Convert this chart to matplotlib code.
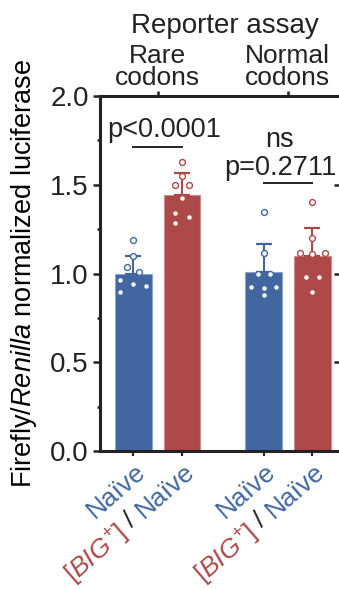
import matplotlib
matplotlib.use("Agg")
import matplotlib.pyplot as plt
from matplotlib.ticker import MultipleLocator
from matplotlib.transforms import blended_transform_factory, offset_copy
import numpy as np

plt.rcParams['font.family'] = ['Liberation Sans', 'DejaVu Sans']
plt.rcParams['mathtext.fontset'] = 'custom'
plt.rcParams['mathtext.rm'] = 'Liberation Sans'
plt.rcParams['mathtext.it'] = 'Liberation Sans:italic'
plt.rcParams['text.color'] = '#222222'

# data
groups = ["Rare\ncodons", "Normal\ncodons"]
conditions = ["Naïve", "[BIG+] / Naïve"]
means = [1.00, 1.44, 1.01, 1.10]
sd = [0.10, 0.125, 0.158, 0.155]
pts_naive_rare = [1.189, 1.10, 1.035, 1.01, 0.963, 0.94, 0.93, 0.897]
pts_big_rare = [1.63, 1.549, 1.499, 1.499, 1.427, 1.339, 1.32, 1.283]
pts_naive_norm = [1.348, 1.113, 0.997, 0.997, 0.922, 0.917, 0.922, 0.879]
pts_big_norm = [1.401, 1.198, 1.114, 1.108, 1.114, 0.982, 0.982, 0.897]
pvals = ["p<0.0001", "ns\np=0.2711"]

# layout
xpos = [0, 1, 2.68, 3.68]
jitter = [
    [0, 0, -0.14, 0.12, -0.27, 0, 0.25, -0.27],
    [0, 0, -0.14, 0.15, 0, -0.14, 0.15, -0.14],
    [0, 0, -0.12, 0.14, -0.26, 0, 0.26, 0],
    [0, 0, -0.26, 0, 0.27, -0.12, 0.15, 0],
]
blue = '#4267a0'
red = '#ad4948'
colors = [blue, red, blue, red]
edges = ['#8aa6cf', '#d08b8a', '#8aa6cf', '#d08b8a']
all_pts = [pts_naive_rare, pts_big_rare, pts_naive_norm, pts_big_norm]

fig = plt.figure(figsize=(3.39, 5.90), dpi=100)
W, H = 339, 590
ax = fig.add_axes([100 / W, 139 / H, 250 / W, 355 / H])

ax.bar(xpos, means, width=0.76, color=colors, edgecolor=edges, linewidth=0.8, zorder=2)
for x, m, s, c in zip(xpos, means, sd, colors):
    ax.errorbar(x, m, yerr=[[0], [s]], color=c, lw=1.5, capsize=6, capthick=1.6, zorder=3)
for x, p, j, c in zip(xpos, all_pts, jitter, colors):
    ax.scatter(np.array(j) + x, p, s=18, facecolor='white', edgecolor=c, linewidth=1.0, zorder=4)

ax.set_ylim(0, 2.0)
ax.set_xlim(-0.69, 4.46)
ax.yaxis.set_minor_locator(MultipleLocator(0.25))
ax.set_yticks([0, 0.5, 1.0, 1.5, 2.0], ['0.0', '0.5', '1.0', '1.5', '2.0'])
ax.tick_params(axis='y', which='major', length=5, width=1.8, labelsize=20, pad=3, colors='#222222')
ax.tick_params(axis='y', which='minor', length=2.5, width=1.8, colors='#222222')
ax.set_xticks(xpos, [''] * 4)
ax.tick_params(axis='x', length=3.6, width=1.5, colors='#222222')
for sp in ['left', 'bottom', 'top']:
    ax.spines[sp].set_linewidth(2.2)
    ax.spines[sp].set_color('#222222')
ax.spines['right'].set_visible(False)
ax.set_facecolor('none')

ax.set_ylabel('Firefly/$\\mathit{Renilla}$ normalized luciferase', fontsize=19.5)
ax.yaxis.set_label_coords(-0.245, 0.5)

# top axis with group labels
top = ax.secondary_xaxis('top')
top.set_xticks([0.5, 3.18], groups)
top.tick_params(length=3.6, width=1.8, labelsize=19, pad=1, colors='#222222')
for lab in top.get_xticklabels():
    lab.set_linespacing(0.85)
top.spines['top'].set_visible(False)
ax.text(0.5, 1 + (96 - 33) / 355, 'Reporter assay', transform=ax.transAxes,
        ha='center', va='baseline', fontsize=20)

# significance
ax.plot([0, 1], [1.714, 1.714], color='#222222', lw=1.4)
ax.text(0.63, 1.769, pvals[0], ha='center', va='baseline', fontsize=19.5)
ax.plot([2.68, 3.68], [1.512, 1.512], color='#222222', lw=1.4)
ns_text, p_text = pvals[1].split('\n')
ax.text(3.0, 1.713, ns_text, ha='center', va='baseline', fontsize=19.5)
ax.text(3.02, 1.555, p_text, ha='center', va='baseline', fontsize=19.5)

# next panel's axis ticks at the right edge
ax2 = fig.add_axes([341 / W, 139 / H, 0.2, 355 / H])
ax2.set_ylim(0, 2.0)
ax2.set_yticks([0.5, 1.0, 1.5], ['', '', ''])
ax2.set_xticks([])
ax2.tick_params(axis='y', length=5, width=1.8, colors='#222222')
for sp in ax2.spines.values():
    sp.set_visible(False)
ax2.set_facecolor('none')

# coloured rotated x labels
renderer = fig.canvas.get_renderer()
xfs = 19
rot = 41
trans = blended_transform_factory(ax.transData, ax.transAxes)
ang = np.deg2rad(rot)


def text_width(s):
    t = fig.text(0, 0, s, fontsize=xfs)
    w = t.get_window_extent(renderer).width
    t.remove()
    return w


def put(x, s, color, dist):
    tr = offset_copy(trans, fig=fig, x=1 - dist * np.cos(ang), y=-8 - dist * np.sin(ang), units='dots')
    ax.text(x, 0, s, transform=tr, rotation=rot, rotation_mode='anchor',
            ha='right', va='top', fontsize=xfs, color=color, clip_on=False)


big_label = '[$\\mathit{BIG}^{+}$]'
w_naive = text_width('Naïve')
w_slash = text_width('/')
gap = xfs * 100 / 72 * 0.28
for i, x in enumerate(xpos):
    put(x, 'Naïve', blue, 0)
    if i % 2 == 1:
        put(x, '/', '#222222', w_naive + gap)
        put(x, big_label, red, w_naive + 2 * gap + w_slash)

fig.savefig('out.png', dpi=100)
